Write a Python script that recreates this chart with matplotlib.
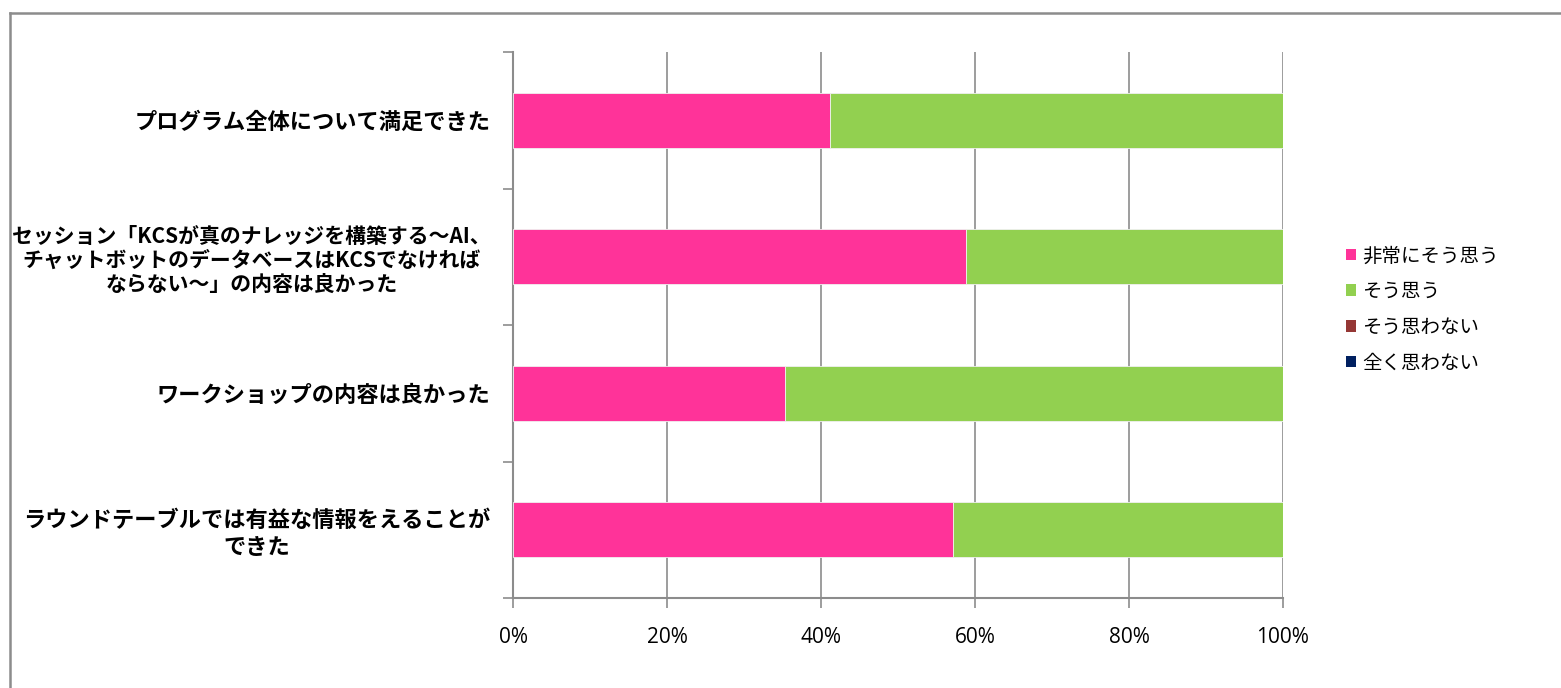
import numpy as np
import matplotlib.pyplot as plt
from matplotlib.lines import Line2D
from matplotlib.patches import Patch

plt.rcParams['font.family'] = ['Noto Sans CJK JP', 'DejaVu Sans']

# Datos (porcentajes)
preguntas = [
    'プログラム全体について満足できた',
    'セッション「KCSが真のナレッジを構築する～AI、\nチャットボットのデータベースはKCSでなければ\nならない～」の内容は良かった',
    'ワークショップの内容は良かった',
    'ラウンドテーブルでは有益な情報をえることが\nできた',
]
series = ['非常にそう思う', 'そう思う', 'そう思わない', '全く思わない']
muy_de_acuerdo = [41.2, 58.8, 35.3, 57.1]
de_acuerdo = [58.8, 41.2, 64.7, 42.9]
en_desacuerdo = [0, 0, 0, 0]
nada = [0, 0, 0, 0]
colores = ['#FF3399', '#92D050', '#953735', '#002060']
ticks_x = [0, 20, 40, 60, 80, 100]

fig = plt.figure(figsize=(15.61, 6.88), dpi=100)
ax = fig.add_axes([513 / 1561, 1 - 598 / 688, 770 / 1561, 546 / 688])

# Marco exterior gris
fig.add_artist(Line2D([10 / 1561, 10 / 1561], [-0.01, 1 - 13 / 688], transform=fig.transFigure,
                      color='#8c8c8c', lw=1.8))
fig.add_artist(Line2D([10 / 1561, 1.0], [1 - 13 / 688, 1 - 13 / 688], transform=fig.transFigure,
                      color='#8c8c8c', lw=1.8))

y = np.arange(len(preguntas))
izq = np.zeros(len(preguntas))
for valores, color, nombre in zip([muy_de_acuerdo, de_acuerdo, en_desacuerdo, nada], colores, series):
    ax.barh(y, valores, left=izq, height=0.4, color=color, edgecolor='#f0f0f0', linewidth=0.6,
            label=nombre, zorder=3)
    izq = izq + np.array(valores)

ax.set_xlim(0, 100)
ax.set_ylim(len(preguntas) - 0.5, -0.5)

ax.set_xticks(ticks_x)
ax.set_xticklabels([f'{t}%' for t in ticks_x], fontsize=15, family=['Open Sans', 'DejaVu Sans'])
ax.tick_params(axis='x', length=7, width=1.2, color='#8c8c8c', pad=14)
ax.grid(axis='x', color='#8c8c8c', lw=1.2, zorder=0)

ax.set_yticks(y)
ax.set_yticklabels(preguntas, fontsize=16, fontweight='bold')
for i, lbl in enumerate(ax.get_yticklabels()):
    lbl.set_multialignment('center')
    if '\n' in preguntas[i] and preguntas[i].count('\n') > 1:
        lbl.set_fontsize(15)
ax.set_yticks(np.arange(len(preguntas) + 1) - 0.5, minor=True)
ax.tick_params(axis='y', which='major', length=0, pad=16)
ax.tick_params(axis='y', which='minor', length=7, width=1.2, color='#8c8c8c')

for lado in ['top', 'right']:
    ax.spines[lado].set_visible(False)
for lado in ['left', 'bottom']:
    ax.spines[lado].set_color('#8c8c8c')
    ax.spines[lado].set_linewidth(1.5)

manijas = [Patch(facecolor=c, edgecolor='none') for c in colores]
fig.legend(manijas, series, loc='upper left', bbox_to_anchor=(1328 / 1561, 1 - 228 / 688),
           frameon=False, fontsize=14, handlelength=0.55, handleheight=0.55,
           handletextpad=0.3, labelspacing=0.75)

plt.savefig('out.png', dpi=100)
